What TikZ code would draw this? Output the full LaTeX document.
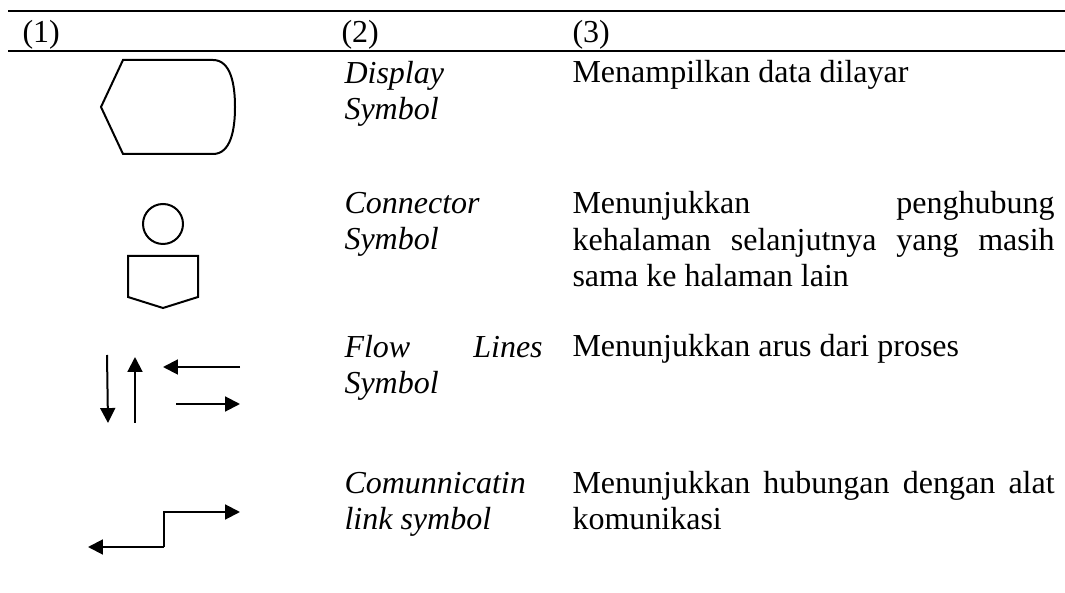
\documentclass[tikz,border=0pt]{standalone}
\usepackage{fontspec}
\setmainfont{Liberation Serif}
\usetikzlibrary{arrows.meta}
\tikzset{
	rule/.style={line width=1pt},
	sym/.style={line width=0.75pt},
	flow/.style={line width=0.75pt,-{Triangle[length=5.6pt,width=5.6pt]}},
	cell/.style={anchor=base west,inner sep=0pt,align=left,font=\fontsize{12}{13.8}\selectfont},
	symname/.style={cell,font=\fontsize{12}{13.8}\selectfont\itshape},
}
\newcommand{\colb}{74.3pt}
\newcommand{\colc}{180.8pt}
\newcommand{\fillline}[2]{\makebox[#1][s]{#2}}
\begin{document}
\begin{tikzpicture}[x=0.375pt,y=-0.375pt]
	\useasboundingbox (0,0) rectangle (1065,593);
	% table rules
	\draw[rule] (8,11) -- (1065,11);
	\draw[rule] (8,51) -- (1065,51);
	\node[cell] (h1) at (22,43) {(1)};
	\node[cell] (h2) at (341,43) {(2)};
	\node[cell] (h3) at (572,43) {(3)};
	% display (anchors sit on the last line)
	\draw[sym] (123,60) -- (213,60) .. controls (231,60) and (235,85) .. (235,107)
		.. controls (235,129) and (231,154) .. (213,154) -- (123,154) -- (101,107) -- cycle;
	\node[symname] (dispname) at (344,120) {Display\\Symbol};
	\node[cell] (dispdesc) at (572,83) {Menampilkan data dilayar};
	% connector
	\draw[sym] (163,224) circle (20);
	\draw[sym] (128,256) -- (198,256) -- (198,297) -- (163,308) -- (128,297) -- cycle;
	\node[symname] (connname) at (344,250) {Connector\\Symbol};
	\node[cell] (conndesc) at (572,287) {\fillline{\colc}{Menunjukkan penghubung}\\
		\fillline{\colc}{kehalaman selanjutnya yang masih}\\sama ke halaman lain};
	% flow lines
	\draw[flow] (107,355) -- (108,423);
	\draw[flow] (135,423) -- (135,357);
	\draw[flow] (240,367) -- (163,367);
	\draw[flow] (176,404) -- (240,404);
	\node[symname] (flowname) at (344,394) {\fillline{\colb}{Flow Lines}\\Symbol};
	\node[cell] (flowdesc) at (572,357) {Menunjukkan arus dari proses};
	% communication link
	\draw[flow] (164,547) -- (164,512) -- (240,512);
	\draw[flow] (164,547) -- (88,547);
	\node[symname] (commname) at (344,530) {Comunnicatin\\link symbol};
	\node[cell] (commdesc) at (572,530) {\fillline{\colc}{Menunjukkan hubungan dengan alat}\\komunikasi};
\end{tikzpicture}
\end{document}
